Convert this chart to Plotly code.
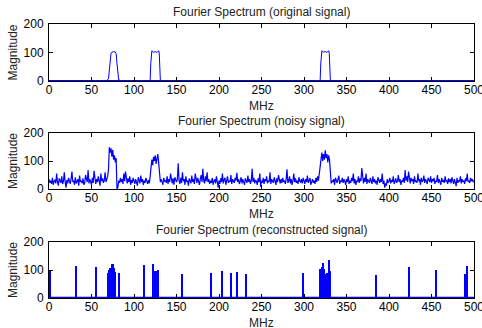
import plotly.graph_objects as go

# ---------------- data ----------------
freq_orig = [0, 60, 66, 68, 70, 71, 72, 73, 74, 76, 78, 79, 80, 81, 82, 86, 118, 119, 119.7, 120.3, 121,
             123, 125, 127, 129, 129.7, 130.3, 131, 132, 318, 319, 319.7, 320.3, 321, 323, 325, 327, 329,
             329.7, 330.3, 331, 332, 500]
mag_orig = [0, 0, 0.5, 2, 8, 35, 82, 98, 101, 103, 102, 96, 60, 18, 4, 0, 0, 1, 60, 98, 106, 101, 103, 100,
            106, 98, 60, 3, 0, 0, 1, 60, 98, 106, 101, 104, 100, 106, 98, 60, 3, 0, 0]

mag_noisy = [
    35, 22, 30, 18, 40, 15, 28, 33, 20, 55, 25, 12, 38, 30, 22, 45, 18, 28, 60, 25, 5, 32, 20, 40, 28,
    18, 35, 62, 25, 30, 15, 42, 20, 28, 35, 12, 48, 25, 30, 20, 38, 15, 22, 50, 30, 25, 68, 20, 35, 28,
    15, 40, 22, 65, 30, 18, 35, 25, 45, 20, 12, 55, 28, 38, 22, 30, 60, 25, 35, 45, 70, 150, 130, 145, 115,
    140, 105, 120, 95, 110, 0, 5, 30, 22, 40, 25, 35, 18, 55, 28, 62, 30, 20, 38, 25, 45, 15, 32, 22, 40,
    28, 18, 35, 25, 12, 42, 30, 20, 48, 25, 35, 15, 30, 22, 40, 28, 18, 32, 20, 45, 95, 105, 85, 115, 100,
    120, 90, 110, 125, 95, 70, 25, 35, 20, 15, 40, 28, 30, 22, 45, 18, 35, 25, 55, 30, 20, 38, 15, 42, 28,
    25, 35, 92, 30, 18, 40, 22, 60, 28, 35, 15, 45, 25, 30, 12, 38, 28, 20, 48, 25, 35, 18, 55, 30, 22,
    40, 28, 15, 35, 50, 25, 72, 30, 20, 45, 28, 60, 25, 35, 18, 30, 22, 40, 15, 28, 35, 20, 45, 25, 5,
    30, 18, 38, 25, 55, 20, 32, 40, 15, 28, 45, 22, 30, 25, 50, 18, 35, 28, 22, 40, 30, 58, 25, 35, 18,
    28, 42, 20, 35, 25, 15, 38, 30, 22, 48, 25, 35, 18, 30, 72, 25, 40, 20, 32, 28, 15, 38, 25, 55, 8,
    30, 22, 40, 18, 35, 28, 45, 20, 30, 25, 60, 18, 35, 28, 22, 42, 30, 15, 38, 25, 50, 28, 20, 35, 22,
    40, 25, 30, 18, 35, 70, 22, 28, 45, 20, 35, 15, 30, 55, 25, 38, 22, 30, 18, 42, 28, 25, 35, 20, 40,
    30, 18, 35, 25, 48, 22, 30, 40, 15, 28, 35, 22, 30, 18, 40, 25, 45, 30, 60, 95, 115, 130, 100, 125, 105,
    138, 110, 125, 95, 120, 105, 45, 20, 30, 25, 35, 15, 40, 28, 22, 35, 48, 18, 30, 25, 40, 22, 35, 28, 15,
    35, 25, 45, 18, 30, 22, 40, 28, 55, 20, 35, 15, 30, 25, 45, 22, 38, 28, 75, 30, 20, 40, 25, 55, 18,
    35, 28, 22, 40, 30, 18, 45, 25, 35, 20, 30, 15, 42, 28, 22, 35, 25, 55, 18, 30, 5, 20, 12, 35, 22,
    28, 40, 20, 32, 25, 45, 18, 30, 38, 22, 28, 50, 25, 35, 15, 30, 25, 40, 22, 68, 30, 45, 25, 62, 35,
    20, 40, 28, 35, 18, 45, 25, 30, 22, 55, 28, 35, 15, 40, 25, 30, 48, 22, 35, 28, 18, 40, 30, 25, 45,
    22, 35, 28, 40, 18, 30, 25, 50, 22, 35, 28, 15, 40, 25, 32, 22, 45, 28, 30, 18, 38, 25, 35, 20, 42,
    28, 18, 35, 25, 10, 40, 22, 30, 28, 45, 20, 35, 25, 30, 18, 38, 28, 55, 25, 30, 22, 40, 28, 35, 25,
    30,
]
freq_noisy = list(range(len(mag_noisy)))

freq_rec = [1, 32, 55, 70, 71, 72, 74, 75, 76, 77, 78, 83, 112, 123, 125, 127, 128, 157, 191, 204, 214,
            221, 232, 299, 319, 321, 322, 323, 324, 326, 327, 329, 330, 331, 385, 424, 455, 490, 492]
mag_rec = [100, 115, 110, 90, 100, 108, 122, 120, 92, 108, 92, 90, 118, 120, 95, 96, 100, 85, 90, 97, 88,
           93, 84, 90, 105, 110, 115, 125, 105, 85, 90, 95, 137, 98, 83, 110, 100, 85, 115]

titles = ["Fourier Spectrum (original signal)", "Fourier Spectrum (noisy signal)",
          "Fourier Spectrum (reconstructed signal)"]
x_ticks = [0, 50, 100, 150, 200, 250, 300, 350, 400, 450, 500]
y_ticks = [0, 100, 200]

# ---------------- figure ----------------
W, H = 482, 328
BLUE = "#0000ff"
FONT = "Liberation Sans, Arial, Helvetica, sans-serif"

fig = go.Figure()

panels = [(24, 81), (133, 189), (242, 298)]
x0px, x1px = 49, 474

fig.add_trace(go.Scatter(x=freq_orig, y=mag_orig, mode="lines", line=dict(color=BLUE, width=1),
                         xaxis="x", yaxis="y", showlegend=False))
fig.add_trace(go.Scatter(x=[0, 500], y=[0, 0], mode="lines", line=dict(color=BLUE, width=2),
                         xaxis="x", yaxis="y", showlegend=False))

fig.add_trace(go.Scatter(x=freq_noisy, y=mag_noisy, mode="lines", line=dict(color=BLUE, width=1.2),
                         xaxis="x2", yaxis="y2", showlegend=False))

fig.add_trace(go.Bar(x=freq_rec, y=mag_rec, width=1.4, marker=dict(color=BLUE, line=dict(width=0)),
                     xaxis="x3", yaxis="y3", showlegend=False))
fig.add_trace(go.Scatter(x=[0, 500], y=[0, 0], mode="lines", line=dict(color=BLUE, width=2.5),
                         xaxis="x3", yaxis="y3", showlegend=False))

axis_common = dict(showline=True, mirror="ticks", linecolor="black", linewidth=1,
                   ticks="inside", ticklen=4, tickcolor="black", tickwidth=1,
                   showgrid=False, zeroline=False, automargin=False, ticklabeloverflow="allow",
                   tickfont=dict(family=FONT, size=12, color="black"))

layout = dict(width=W, height=H, autosize=False, margin=dict(l=0, r=0, t=0, b=0, pad=0),
              paper_bgcolor="white", plot_bgcolor="white", bargap=0, showlegend=False)

annotations = []
for i, (top, bot) in enumerate(panels):
    sfx = "" if i == 0 else str(i + 1)
    ydom = [1 - bot / H, 1 - top / H]
    layout["xaxis" + sfx] = dict(axis_common, domain=[x0px / W, x1px / W], range=[0, 500],
                                 tickvals=x_ticks, anchor="y" + sfx, ticklabelstandoff=-2)
    layout["yaxis" + sfx] = dict(axis_common, domain=ydom, range=[0, 200],
                                 tickvals=y_ticks, anchor="x" + sfx, ticklabelstandoff=2)
    cx = (x0px + x1px) / 2 / W
    annotations.append(dict(text=titles[i], x=cx, y=1 - (top - 12) / H, xref="paper", yref="paper",
                            showarrow=False, xanchor="center", yanchor="middle",
                            font=dict(family=FONT, size=12, color="#222")))
    annotations.append(dict(text="MHz", x=cx, y=1 - (bot + 25) / H, xref="paper", yref="paper",
                            showarrow=False, xanchor="center", yanchor="middle",
                            font=dict(family=FONT, size=12, color="#222")))
    annotations.append(dict(text="Magnitude", x=13 / W, y=1 - (top + bot) / 2 / H, xref="paper",
                            yref="paper", showarrow=False, xanchor="center", yanchor="middle",
                            textangle=-90, font=dict(family=FONT, size=12, color="#222")))

layout["annotations"] = annotations
fig.update_layout(**layout)
fig.write_html("out.html", config={"displayModeBar": False},
               post_script="document.body.style.margin='0';document.body.style.overflow='hidden';")
